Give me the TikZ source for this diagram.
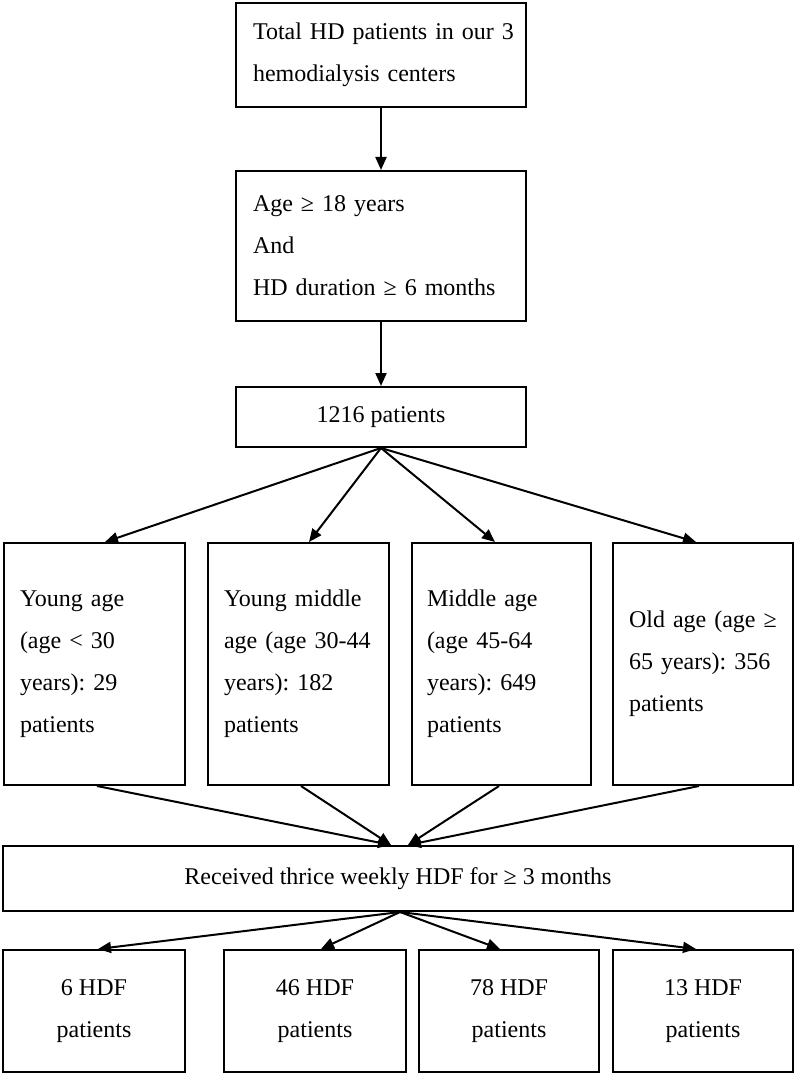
\documentclass[tikz,border=0pt]{standalone}
\usepackage{fontspec}
\setmainfont{Liberation Serif}
\usetikzlibrary{arrows.meta}
\begin{document}
\begin{tikzpicture}[x=1pt,y=-1pt,
  box/.style={draw=black, line width=2pt, fill=white, inner sep=0pt,
    font=\fontsize{24}{42}\selectfont\frenchspacing},
  lbox/.style={box, align=left, inner xsep=17pt},
  cbox/.style={box, align=center},
  conn/.style={line width=2pt, -{Triangle[length=13pt,width=11pt]}}]
\useasboundingbox[fill=white] (0,0) rectangle (800,1078);

\node[lbox, text width=256pt, minimum height=104pt] (b1) at (381,55)
  {\mbox{Total HD patients in our 3}\\\mbox{hemodialysis centers}};
\node[lbox, text width=256pt, minimum height=150pt] (b2) at (381,246)
  {\mbox{Age ≥ 18 years}\\And\\\mbox{HD duration ≥ 6 months}};
\node[cbox, minimum width=290pt, minimum height=60pt] (b3) at (381,417)
  {1216 patients};

\node[lbox, inner xsep=16pt, text width=149pt, minimum height=242pt] (r1) at (94.5,664)
  {\mbox{Young age}\\\mbox{(age < 30}\\\mbox{years): 29}\\patients};
\node[lbox, inner xsep=16pt, text width=149pt, minimum height=242pt] (r2) at (298.5,664)
  {\mbox{Young middle}\\\mbox{age (age 30-44}\\\mbox{years): 182}\\patients};
\node[lbox, inner xsep=15pt, text width=149pt, minimum height=242pt] (r3) at (501.5,664)
  {\mbox{Middle age}\\\mbox{(age 45-64}\\\mbox{years): 649}\\patients};
\node[lbox, inner xsep=16pt, text width=148pt, minimum height=242pt] (r4) at (703,664)
  {\mbox{Old age (age ≥}\\\mbox{65 years): 356}\\patients};

\node[cbox, minimum width=790pt, minimum height=65pt] (b5) at (398,878.5)
  {Received thrice weekly HDF for ≥ 3 months};

\node[cbox, minimum width=182pt, minimum height=122pt] (s1) at (94,1011)
  {6 HDF\\patients};
\node[cbox, minimum width=182pt, minimum height=122pt] (s2) at (315,1011)
  {46 HDF\\patients};
\node[cbox, minimum width=180pt, minimum height=122pt] (s3) at (509,1011)
  {78 HDF\\patients};
\node[cbox, minimum width=180pt, minimum height=122pt] (s4) at (703,1011)
  {13 HDF\\patients};

\draw[conn] (b1.south) -- (b2.north);
\draw[conn] (b2.south) -- (b3.north);

\draw[conn] (b3.south) -- ([xshift=10.5pt]r1.north);
\draw[conn] (b3.south) -- ([xshift=10.5pt]r2.north);
\draw[conn] (b3.south) -- ([xshift=-6.5pt]r3.north);
\draw[conn] (b3.south) -- ([xshift=-7pt]r4.north);

\draw[conn] ([xshift=2.5pt]r1.south) -- ([xshift=-7pt]b5.north);
\draw[conn] ([xshift=2.5pt]r2.south) -- ([xshift=-7pt]b5.north);
\draw[conn] ([xshift=-2.5pt]r3.south) -- ([xshift=10pt]b5.north);
\draw[conn] ([xshift=-4pt]r4.south) -- ([xshift=10pt]b5.north);

\draw[conn] ([xshift=2pt]b5.south) -- ([xshift=4pt]s1.north);
\draw[conn] ([xshift=2pt]b5.south) -- ([xshift=6pt]s2.north);
\draw[conn] ([xshift=2pt]b5.south) -- ([xshift=-9pt]s3.north);
\draw[conn] ([xshift=2pt]b5.south) -- ([xshift=-7pt]s4.north);
\end{tikzpicture}
\end{document}
